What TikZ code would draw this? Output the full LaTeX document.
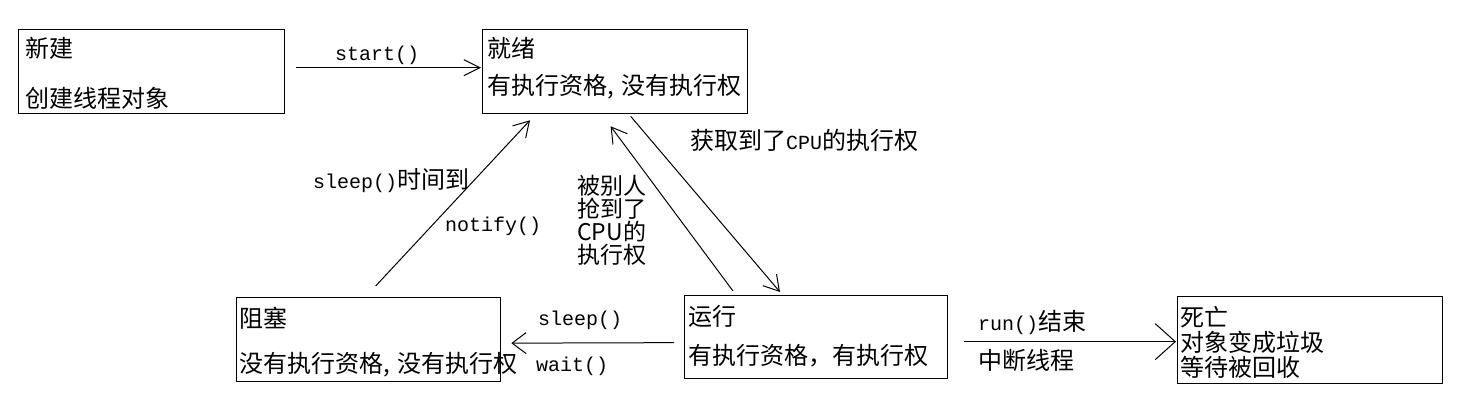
\documentclass[tikz,border=0pt]{standalone}
\usepackage{fontspec}
\setmainfont{Noto Sans CJK SC}
\setmonofont{Liberation Mono}
\usetikzlibrary{arrows.meta,calc}
\newcommand\cma{\makebox[0.6em][l]{,}}
\newcommand\mt[1]{{\fontsize{20}{24}\selectfont\ttfamily #1}}
\begin{document}
\begin{tikzpicture}[x=1pt,y=-1pt,
  box/.style={draw, line width=1.3pt, anchor=north west, inner sep=0pt},
  cj/.style={anchor=west, inner sep=0pt, font=\fontsize{24}{27}\selectfont},
  mo/.style={anchor=west, inner sep=0pt, font=\fontsize{20}{24}\selectfont\ttfamily},
  ln/.style={line width=1pt},
  arr/.style={ln, -{Straight Barb[length=15pt,width=18pt]}}]
\useasboundingbox[fill=white] (0,0) rectangle (1457,413);
% boxes
\node[box, minimum width=266pt, minimum height=84pt] (xj) at (18,29) {};
\node[box, minimum width=265pt, minimum height=84pt] (jx) at (482,29) {};
\node[box, minimum width=264pt, minimum height=84pt] (zs) at (236,297) {};
\node[box, minimum width=263pt, minimum height=83pt] (yx) at (684,295) {};
\node[box, minimum width=265pt, minimum height=87pt] (sw) at (1177,296) {};
% box texts
\node[cj] (t1a) at (25,48) {新建};
\node[cj] (t1b) at (25,98) {创建线程对象};
\node[cj] (t2a) at (487,48) {就绪};
\node[cj] (t2b) at (487,87) {有执行资格\cma 没有执行权};
\node[cj] (t3a) at (239,318) {阻塞};
\node[cj] (t3b) at (239,365) {没有执行资格\cma 没有执行权};
\node[cj] (t4a) at (688,316) {运行};
\node[cj] (t4b) at (688,356) {有执行资格，有执行权};
\node[cj] (t5a) at (1180,317) {死亡};
\node[cj] (t5b) at (1180,342) {对象变成垃圾};
\node[cj] (t5c) at (1180,367) {等待被回收};
% labels
\node[mo] (l1) at (335,55) {start()};
\node[cj] (l2) at (690,140) {获取到了\mt{CPU}的执行权};
\node[cj] (l3) at (313,181) {\mt{sleep()}时间到};
\node[mo] (l4) at (445,226) {notify()};
\node[anchor=north west, inner sep=0pt, align=left, font=\fontsize{23}{23}\selectfont] (l5) at (577,175) {被别人\\抢到了\\CPU的\\执行权};
\node[mo] (l6) at (538,320) {sleep()};
\node[mo] (l7) at (536,366) {wait()};
\node[cj] (l8) at (978,322) {\mt{run()}结束};
\node[cj] (l9) at (978,360) {中断线程};
% connectors
\draw[ln, -{Straight Barb[length=16pt,width=16pt]}] ($(xj.east)+(11,-4)$) -- ($(jx.west)+(-1,-4)$);
\draw[arr] ($(zs.north)+(7,-11)$) -- ($(jx.south west)+(48,6)$);
\draw[arr] ($(yx.north west)+(49,-4)$) -- ($(jx.south)+(-4.5,12)$);
\draw[arr] ($(jx.south)+(15.5,2)$) -- ($(yx.north west)+(96,-3)$);
\draw[ln, -{Straight Barb[length=14pt,width=21pt]}] ($(yx.west)+(-10,5.5)$) -- ($(zs.east)+(10,3.5)$);
\draw[ln, -{Straight Barb[length=20pt,width=36pt]}] ($(yx.east)+(16,4.5)$) -- ($(sw.west)+(-1,1.5)$);
\end{tikzpicture}
\end{document}
